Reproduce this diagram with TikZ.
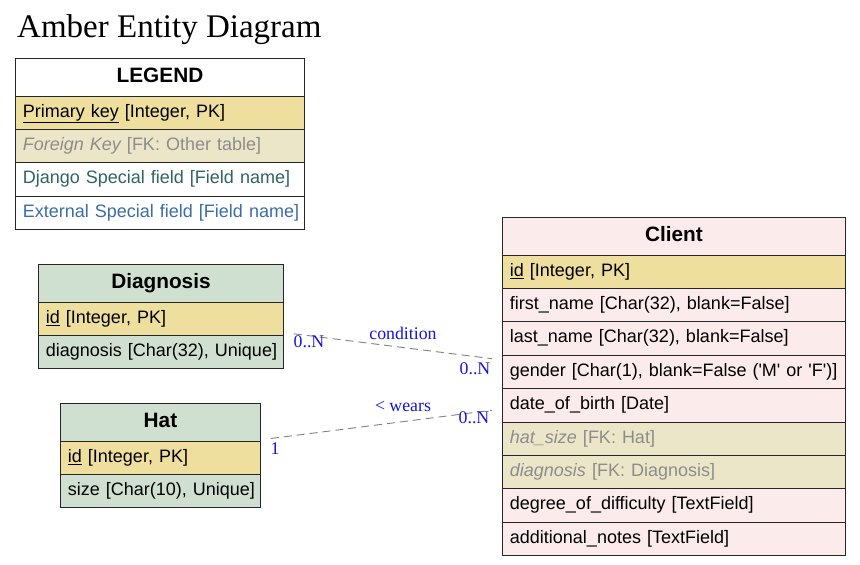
\documentclass[tikz,border=0pt]{standalone}
\usepackage{fontspec}
\usetikzlibrary{calc}
\setmainfont{Liberation Serif}
\newfontfamily\arial{Liberation Sans}
\definecolor{pk}{HTML}{EFDF9F}
\definecolor{fk}{HTML}{ECE6C8}
\definecolor{clientbg}{HTML}{FCEBEB}
\definecolor{greenbg}{HTML}{D0E0D0}
\definecolor{fktext}{HTML}{8C8C8C}
\definecolor{django}{HTML}{2F6464}
\definecolor{external}{HTML}{3A6EA5}
\definecolor{lbl}{HTML}{1414DC}
\newcommand{\R}[1]{\mbox{#1}}
\newcommand{\ul}[1]{\underline{#1}}
\tikzset{
  tbl/.style={draw=black!85, line width=0.9pt, anchor=north west, inner xsep=7.5pt, inner ysep=0pt,
    minimum height=33.4pt, text height=13pt, text depth=4pt, align=left,
    font=\arial\fontsize{18}{20}\selectfont},
  hdr/.style={tbl, minimum height=37.5pt, align=center, text height=15pt, text depth=4pt,
    font=\arial\bfseries\fontsize{20.8}{23}\selectfont},
  rel/.style={draw=black!50, line width=0.9pt, dash pattern=on 8pt off 5pt},
  elabel/.style={text=lbl, font=\fontsize{17.8}{20}\selectfont, inner sep=0pt},
}
\begin{document}
\begin{tikzpicture}[x=1pt,y=-1pt]
\useasboundingbox (0,0) rectangle (860,565);
\node[anchor=base west, inner sep=0pt, font=\fontsize{33}{38}\selectfont] (title) at (17,37) {Amber Entity Diagram};

% Legend
\node[hdr, fill=white, text width=274pt] (lg) at (15,58) {LEGEND};
\node[tbl, fill=pk, text width=274pt] (lg1) at (15,95.5) {\R{\ul{Primary key} [Integer, PK]}};
\node[tbl, fill=fk, text width=274pt, text=fktext] (lg2) at (15,128.9) {\R{\itshape Foreign Key\upshape{} [FK: Other table]}};
\node[tbl, fill=white, text width=274pt, text=django] (lg3) at (15,162.3) {\R{Django Special field [Field name]}};
\node[tbl, fill=white, text width=274pt, text=external] (lg4) at (15,195.7) {\R{External Special field [Field name]}};

% Diagnosis
\node[hdr, fill=greenbg, text width=230pt] (dg) at (38,264) {Diagnosis};
\node[tbl, fill=pk, text width=230pt] (dg1) at (38,301.5) {\R{\ul{id} [Integer, PK]}};
\node[tbl, fill=greenbg, text width=230pt] (dg2) at (38,334.9) {\R{diagnosis [Char(32), Unique]}};

% Hat
\node[hdr, fill=greenbg, text width=185pt] (ht) at (60,403) {Hat};
\node[tbl, fill=pk, text width=185pt] (ht1) at (60,440.5) {\R{\ul{id} [Integer, PK]}};
\node[tbl, fill=greenbg, text width=185pt] (ht2) at (60,473.9) {\R{size [Char(10), Unique]}};

% Client
\node[hdr, fill=clientbg, text width=328pt] (cl) at (502,217) {Client};
\node[tbl, fill=pk, text width=328pt] (cl1) at (502,254.5) {\R{\ul{id} [Integer, PK]}};
\node[tbl, fill=clientbg, text width=328pt] (cl2) at (502,287.9) {\R{first\_name [Char(32), blank=False]}};
\node[tbl, fill=clientbg, text width=328pt] (cl3) at (502,321.3) {\R{last\_name [Char(32), blank=False]}};
\node[tbl, fill=clientbg, text width=328pt] (cl4) at (502,354.7) {\R{gender [Char(1), blank=False (\textquotesingle M\textquotesingle{} or \textquotesingle F\textquotesingle)]}};
\node[tbl, fill=clientbg, text width=328pt] (cl5) at (502,388.1) {\R{date\_of\_birth [Date]}};
\node[tbl, fill=fk, text width=328pt, text=fktext] (cl6) at (502,421.5) {\R{\itshape hat\_size\upshape{} [FK: Hat]}};
\node[tbl, fill=fk, text width=328pt, text=fktext] (cl7) at (502,454.9) {\R{\itshape diagnosis\upshape{} [FK: Diagnosis]}};
\node[tbl, fill=clientbg, text width=328pt] (cl8) at (502,488.3) {\R{degree\_of\_difficulty [TextField]}};
\node[tbl, fill=clientbg, text width=328pt] (cl9) at (502,521.7) {\R{additional\_notes [TextField]}};

% Relations
\coordinate (dgport) at ($(dg1.south east)+(10,-2)$);
\coordinate (clportA) at ($(cl4.north west)+(-10,4)$);
\coordinate (htport) at ($(ht1.north east)+(10,-2)$);
\coordinate (clportB) at ($(cl5.west)+(-10,5)$);
\draw[rel] (dgport) -- (clportA);
\draw[rel] (htport) -- (clportB);

\node[elabel] (l1a) at (309,342) {0..N};
\node[elabel] (l1b) at (403,333) {condition};
\node[elabel] (l1c) at (475,369) {0..N};
\node[elabel] (l2a) at (275,449) {1};
\node[elabel] (l2b) at (403,406) {< wears};
\node[elabel] (l2c) at (474,418) {0..N};
\end{tikzpicture}
\end{document}
